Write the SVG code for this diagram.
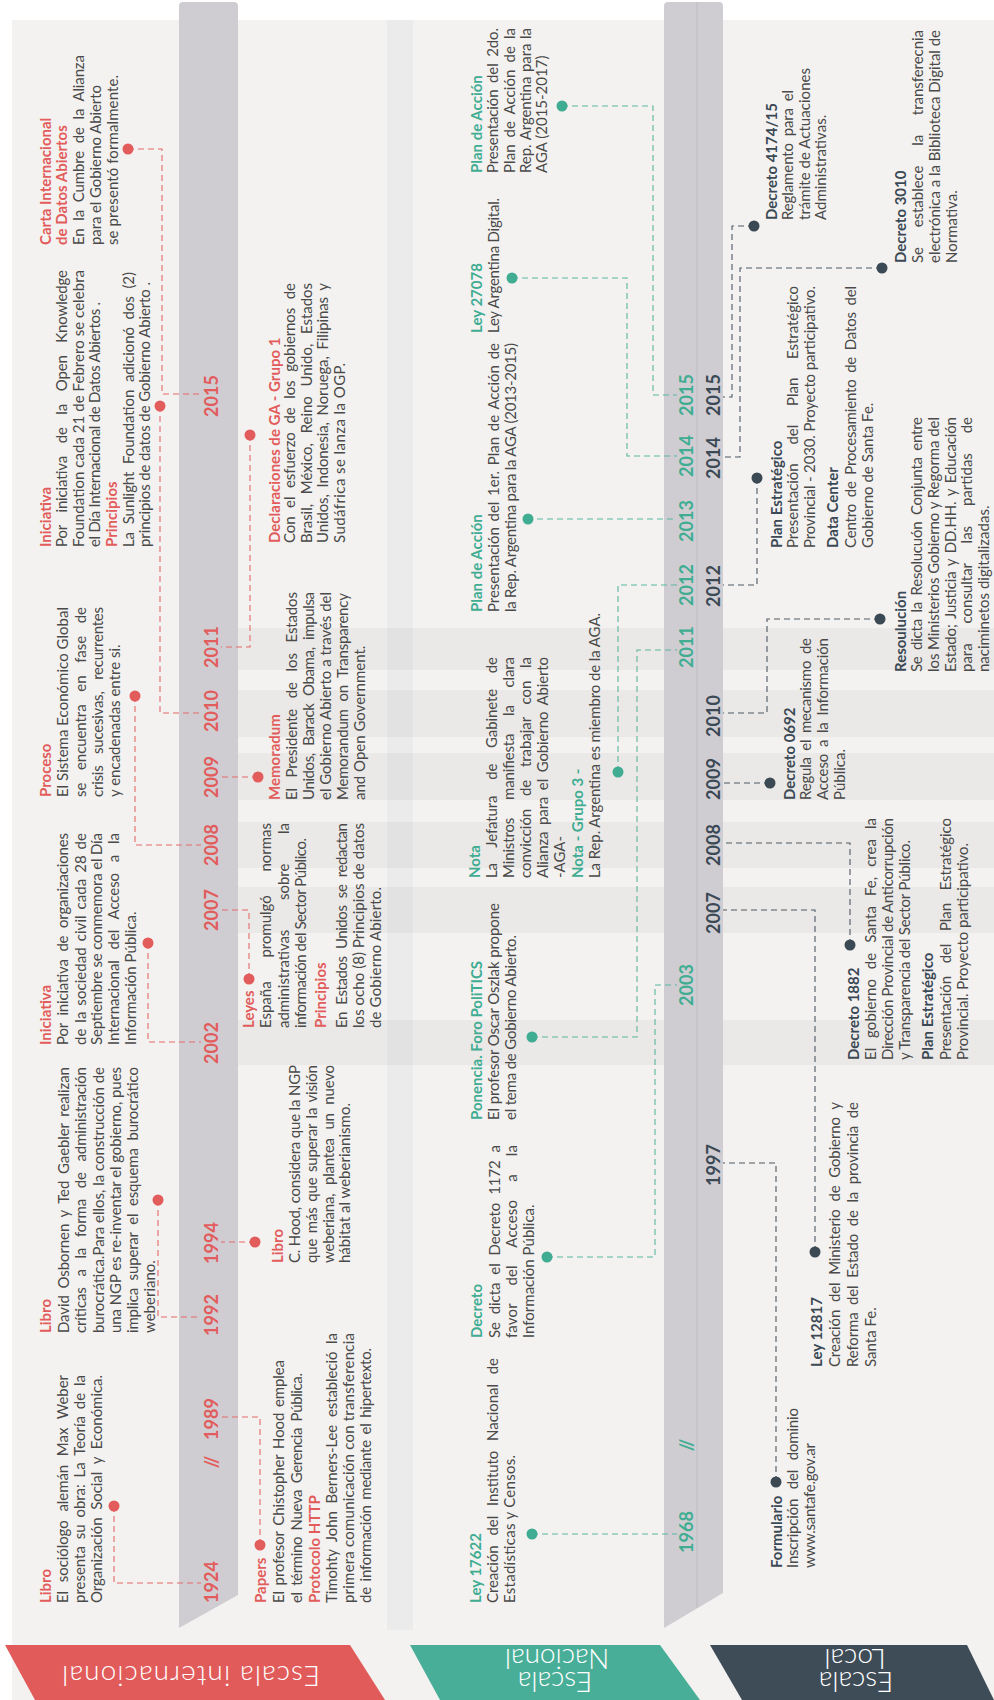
<svg xmlns="http://www.w3.org/2000/svg" width="994" height="1700" viewBox="0 0 994 1700">
<style>
.bg{fill:#f4f2f0}
.band{fill:#000;fill-opacity:0.035}
.strip{fill:#ebebeb}
.bar{fill:#cfcdd2}
.t{font-family:Lato,'Liberation Sans',sans-serif;font-size:15px;fill:#4a4a4a}
.b{font-weight:700}
.r{fill:#e25c5c}
.g{fill:#40ad93}
.d{fill:#3b4955}
.yr{font-family:Lato,'Liberation Sans',sans-serif;font-size:18px;font-weight:700;text-anchor:middle}
.cn{fill:none;stroke-width:1.1;stroke-dasharray:6 4}
.cr{stroke:#e46a6a}
.cg{stroke:#5bb5a1}
.cd{stroke:#4c5864}
.dr{fill:#e25c5c}
.dg{fill:#40ad93}
.dd{fill:#3b4955}
.tab{font-family:Lato,'Liberation Sans',sans-serif;font-size:28px;font-weight:300;fill:#ffffff;text-anchor:middle}
</style>
<rect x="0" y="0" width="994" height="1700" fill="#ffffff"/>
<g transform="translate(0,1700) rotate(-90)">
  <rect class="bg" x="0" y="12" width="1680" height="982"/>
  <rect class="strip" x="70" y="387" width="1610" height="26"/>
  <g id="bands">
    <rect class="band" x="635" y="238" width="45" height="756"/>
    <rect class="band" x="767" y="238" width="46" height="756"/>
    <rect class="band" x="832" y="238" width="46" height="756"/>
    <rect class="band" x="900" y="238" width="47" height="756"/>
    <rect class="band" x="963" y="238" width="47" height="756"/>
    <rect class="band" x="1030" y="238" width="42" height="756"/>
  </g>
  <g id="timeline-internacional">
    <path class="bar" d="M72,179 L1694,179 Q1698,179 1698,183 L1698,234 Q1698,238 1694,238 L105,238 Z"/>
  </g>
  <g id="timeline-nacional-local">
    <path class="bar" d="M72,664 L1694,664 Q1698,664 1698,668 L1698,719 Q1698,723 1694,723 L107,723 Z"/>
    <line x1="92" y1="697" x2="1698" y2="697" stroke="#bfbdc2" stroke-width="1"/>
  </g>

  <g id="connectors">
    <path class="cn cr" d="M194,114 H117 V201"/>
    <path class="cn cr" d="M500,158 H383 V201"/>
    <path class="cn cr" d="M757,148 H658 V201"/>
    <path class="cn cr" d="M1004,135 H855 V201"/>
    <path class="cn cr" d="M1294,160 H987 V201"/>
    <path class="cn cr" d="M1551,128 V162 H1306 V201"/>
    <path class="cn cr" d="M155,260 H283 V221"/>
    <path class="cn cr" d="M458,255 V221"/>
    <path class="cn cr" d="M721,249 H790 V221"/>
    <path class="cn cr" d="M923,258 V221"/>
    <path class="cn cr" d="M1265,250 H1053 V221"/>
    <path class="cn cg" d="M166,532 V677"/>
    <path class="cn cg" d="M443,547 V655 H715 V677"/>
    <path class="cn cg" d="M663,532 V637 H1050 V677"/>
    <path class="cn cg" d="M928,618 H1115 V677"/>
    <path class="cn cg" d="M1181,527 V677"/>
    <path class="cn cg" d="M1422,512 V627 H1244 V677"/>
    <path class="cn cg" d="M1594,562 V653 H1305 V677"/>
    <path class="cn cd" d="M218,776 H537 V723"/>
    <path class="cn cd" d="M448,815 H790 V723"/>
    <path class="cn cd" d="M755,850 H857 V723"/>
    <path class="cn cd" d="M917,770 V723"/>
    <path class="cn cd" d="M1081,880 V767 H987 V723"/>
    <path class="cn cd" d="M1222,757 H1115 V723"/>
    <path class="cn cd" d="M1474,754 V732 H1303 V723"/>
    <path class="cn cd" d="M1432,882 V740 H1243 V723"/>
  </g>

  <g id="years-internacional" class="yr r">
    <text x="118" y="218">1924</text>
    <text x="238" y="218">//</text>
    <text x="281" y="218">1989</text>
    <text x="385" y="218">1992</text>
    <text x="457" y="218">1994</text>
    <text x="657" y="218">2002</text>
    <text x="790" y="218">2007</text>
    <text x="855" y="218">2008</text>
    <text x="923" y="218">2009</text>
    <text x="989" y="218">2010</text>
    <text x="1053" y="218">2011</text>
    <text x="1304" y="218">2015</text>
  </g>
  <g id="years-nacional" class="yr g">
    <text x="168" y="693">1968</text>
    <text x="255" y="693">//</text>
    <text x="715" y="693">2003</text>
    <text x="1053" y="693">2011</text>
    <text x="1115" y="693">2012</text>
    <text x="1179" y="693">2013</text>
    <text x="1244" y="693">2014</text>
    <text x="1305" y="693">2015</text>
  </g>
  <g id="years-local" class="yr d">
    <text x="535" y="720">1997</text>
    <text x="787" y="720">2007</text>
    <text x="855" y="720">2008</text>
    <text x="921" y="720">2009</text>
    <text x="984" y="720">2010</text>
    <text x="1114" y="720">2012</text>
    <text x="1242" y="720">2014</text>
    <text x="1305" y="720">2015</text>
  </g>

  <!-- INTERNACIONAL -->
  <g id="int-libro-1924" class="t">
    <text class="b r" x="97" y="51">Libro</text>
    <text x="97" y="68" textLength="228" lengthAdjust="spacing" style="word-spacing:5px">El sociólogo alemán Max Weber</text>
    <text x="97" y="85" textLength="228" lengthAdjust="spacing" style="word-spacing:3px">presenta su obra: La Teoría de la</text>
    <text x="97" y="102" textLength="228" lengthAdjust="spacing" style="word-spacing:4px">Organización Social y Económica.</text>
    <circle class="dr" cx="194" cy="114" r="5.5"/>
  </g>
  <g id="int-libro-1992" class="t">
    <text class="b r" x="367" y="51">Libro</text>
    <text x="367" y="69" textLength="266" lengthAdjust="spacing" style="word-spacing:3px">David Osbornen y Ted Gaebler realizan</text>
    <text x="367" y="86" textLength="266" lengthAdjust="spacing" style="word-spacing:7px">críticas a la forma de administración</text>
    <text x="367" y="104" textLength="266" lengthAdjust="spacing">burocrática.Para ellos, la construcción de</text>
    <text x="367" y="121" textLength="266" lengthAdjust="spacing">una NGP es re-inventar el gobierno, pues</text>
    <text x="367" y="138" textLength="266" lengthAdjust="spacing" style="word-spacing:4px">implica superar el esquema burocrático</text>
    <text x="367" y="155">weberiano.</text>
    <circle class="dr" cx="500" cy="158" r="5.5"/>
  </g>
  <g id="int-iniciativa-2002" class="t">
    <text class="b r" x="655" y="51">Iniciativa</text>
    <text x="655" y="68" textLength="212" lengthAdjust="spacing" style="word-spacing:4px">Por iniciativa de organizaciones</text>
    <text x="655" y="86" textLength="212" lengthAdjust="spacing" style="word-spacing:2px">de la sociedad civil cada 28 de</text>
    <text x="655" y="102" textLength="212" lengthAdjust="spacing">Septiembre se conmemora el Día</text>
    <text x="655" y="119" textLength="212" lengthAdjust="spacing" style="word-spacing:7px">Internacional del Acceso a la</text>
    <text x="655" y="136">Información Pública.</text>
    <circle class="dr" cx="757" cy="148" r="5.5"/>
  </g>
  <g id="int-proceso-2008" class="t">
    <text class="b r" x="903" y="51">Proceso</text>
    <text x="903" y="68" textLength="190" lengthAdjust="spacing">El Sistema Económico Global</text>
    <text x="903" y="86" textLength="190" lengthAdjust="spacing" style="word-spacing:9px">se encuentra en fase de</text>
    <text x="903" y="103" textLength="190" lengthAdjust="spacing" style="word-spacing:8px">crisis sucesivas, recurrentes</text>
    <text x="903" y="120">y encadenadas entre si.</text>
    <circle class="dr" cx="1004" cy="135" r="5.5"/>
  </g>
  <g id="int-iniciativa-2010" class="t">
    <text class="b r" x="1153" y="51">Iniciativa</text>
    <text x="1153" y="67" textLength="277" lengthAdjust="spacing" style="word-spacing:9px">Por iniciativa de la Open Knowledge</text>
    <text x="1153" y="84" textLength="277" lengthAdjust="spacing">Foundation cada 21 de Febrero se celebra</text>
    <text x="1153" y="100" textLength="245" lengthAdjust="spacing">el Día Internacional de Datos Abiertos .</text>
    <text class="b r" x="1153" y="117">Principios</text>
    <text x="1153" y="134" textLength="275" lengthAdjust="spacing" style="word-spacing:4px">La Sunlight Foundation adicionó dos (2)</text>
    <text x="1153" y="150" textLength="265" lengthAdjust="spacing">principios de datos de Gobierno Abierto .</text>
    <circle class="dr" cx="1294" cy="160" r="5.5"/>
  </g>
  <g id="int-carta-2015" class="t">
    <text class="b r" x="1455" y="51">Carta Internacional</text>
    <text class="b r" x="1455" y="67">de Datos Abiertos</text>
    <text x="1455" y="84" textLength="190" lengthAdjust="spacing" style="word-spacing:4px">En la Cumbre de la Alianza</text>
    <text x="1455" y="101" textLength="160" lengthAdjust="spacing">para el Gobierno Abierto</text>
    <text x="1455" y="118" textLength="170" lengthAdjust="spacing">se presentó formalmente.</text>
    <circle class="dr" cx="1551" cy="128" r="5.5"/>
  </g>
  <g id="int-papers-1989" class="t">
    <text class="b r" x="97" y="266">Papers</text>
    <circle class="dr" cx="155" cy="260" r="5.5"/>
    <text x="97" y="284" textLength="243" lengthAdjust="spacing" style="word-spacing:2px">El profesor Chistopher Hood emplea</text>
    <text x="97" y="302" textLength="230" lengthAdjust="spacing" style="word-spacing:3px">el término Nueva Gerencia Pública.</text>
    <text class="b r" x="97" y="320">Protocolo HTTP</text>
    <text x="97" y="337" textLength="270" lengthAdjust="spacing" style="word-spacing:4px">Timohty John Berners-Lee estableció la</text>
    <text x="97" y="354" textLength="270" lengthAdjust="spacing">primera comunicación con transferencia</text>
    <text x="97" y="371" textLength="255" lengthAdjust="spacing" style="word-spacing:2px">de información mediante el hipertexto.</text>
  </g>
  <g id="int-libro-1994" class="t">
    <circle class="dr" cx="458" cy="255" r="5.5"/>
    <text class="b r" x="437" y="283">Libro</text>
    <text x="437" y="300" textLength="198" lengthAdjust="spacing">C. Hood, considera que la NGP</text>
    <text x="437" y="317" textLength="198" lengthAdjust="spacing" style="word-spacing:2px">que más que superar la visión</text>
    <text x="437" y="334" textLength="198" lengthAdjust="spacing" style="word-spacing:5px">weberiana, plantea un nuevo</text>
    <text x="437" y="350" textLength="160" lengthAdjust="spacing">hábitat al weberianismo.</text>
  </g>
  <g id="int-leyes-2007" class="t">
    <text class="b r" x="672" y="254">Leyes</text>
    <circle class="dr" cx="721" cy="249" r="5.5"/>
    <text x="672" y="271" textLength="205" lengthAdjust="spacing" style="word-spacing:20px">España promulgó normas</text>
    <text x="672" y="289" textLength="205" lengthAdjust="spacing" style="word-spacing:26px">administrativas sobre la</text>
    <text x="672" y="306" textLength="190" lengthAdjust="spacing">información del Sector Público.</text>
    <text class="b r" x="672" y="326">Principios</text>
    <text x="672" y="347" textLength="205" lengthAdjust="spacing" style="word-spacing:4px">En Estados Unidos se redactan</text>
    <text x="672" y="364" textLength="205" lengthAdjust="spacing">los ocho (8) Principios de datos</text>
    <text x="672" y="381" textLength="141" lengthAdjust="spacing">de Gobierno Abierto.</text>
  </g>
  <g id="int-memoradum-2009" class="t">
    <circle class="dr" cx="923" cy="258" r="5.5"/>
    <text class="b r" x="900" y="280">Memoradum</text>
    <text x="900" y="297" textLength="208" lengthAdjust="spacing" style="word-spacing:7px">El Presidente de los Estados</text>
    <text x="900" y="314" textLength="208" lengthAdjust="spacing" style="word-spacing:4px">Unidos, Barack Obama, impulsa</text>
    <text x="900" y="331" textLength="208" lengthAdjust="spacing">el Gobierno Abierto a través del</text>
    <text x="900" y="348" textLength="207" lengthAdjust="spacing" style="word-spacing:4px">Memorandum on Transparency</text>
    <text x="900" y="365">and Open Government.</text>
  </g>
  <g id="int-declaraciones-2011" class="t">
    <circle class="dr" cx="1265" cy="250" r="5.5"/>
    <text class="b r" x="1157" y="280">Declaraciones de GA - Grupo 1</text>
    <text x="1157" y="295" textLength="260" lengthAdjust="spacing" style="word-spacing:5px">Con el esfuerzo de los gobiernos de</text>
    <text x="1157" y="312" textLength="260" lengthAdjust="spacing" style="word-spacing:6px">Brasil, México, Reino Unido, Estados</text>
    <text x="1157" y="328" textLength="260" lengthAdjust="spacing" style="word-spacing:3px">Unidos, Indonesia, Noruega, Filipinas y</text>
    <text x="1157" y="345" textLength="180" lengthAdjust="spacing">Sudáfrica se lanza la OGP.</text>
  </g>

  <!-- NACIONAL -->
  <g id="nac-ley17622-1968" class="t">
    <text class="b g" x="97" y="481">Ley 17622</text>
    <text x="97" y="498" textLength="245" lengthAdjust="spacing" style="word-spacing:6px">Creación del Instituto Nacional de</text>
    <text x="97" y="515" textLength="148" lengthAdjust="spacing">Estadísticas y Censos.</text>
    <circle class="dg" cx="166" cy="532" r="5.5"/>
  </g>
  <g id="nac-decreto-2003" class="t">
    <text class="b g" x="362" y="482">Decreto</text>
    <text x="362" y="500" textLength="193" lengthAdjust="spacing" style="word-spacing:4px">Se dicta el Decreto 1172 a</text>
    <text x="362" y="517" textLength="193" lengthAdjust="spacing" style="word-spacing:14px">favor del Acceso a la</text>
    <text x="362" y="534">Información Pública.</text>
    <circle class="dg" cx="443" cy="547" r="5.5"/>
  </g>
  <g id="nac-ponencia-2011" class="t">
    <text class="b g" x="580" y="482">Ponencia. Foro PoliTICS</text>
    <text x="580" y="499" textLength="217" lengthAdjust="spacing">El profesor Oscar Oszlak propone</text>
    <text x="580" y="516" textLength="185" lengthAdjust="spacing">el tema de Gobierno Abierto.</text>
    <circle class="dg" cx="663" cy="532" r="5.5"/>
  </g>
  <g id="nac-nota-2012" class="t">
    <text class="b g" x="822" y="480">Nota</text>
    <text x="822" y="497" textLength="221" lengthAdjust="spacing" style="word-spacing:12px">La Jefatura de Gabinete de</text>
    <text x="822" y="514" textLength="221" lengthAdjust="spacing" style="word-spacing:14px">Ministros manifiesta la clara</text>
    <text x="822" y="531" textLength="221" lengthAdjust="spacing" style="word-spacing:9px">convicción de trabajar con la</text>
    <text x="822" y="548" textLength="221" lengthAdjust="spacing" style="word-spacing:3px">Alianza para el Gobierno Abierto</text>
    <text x="822" y="565">-AGA-</text>
    <text class="b g" x="822" y="583">Nota - Grupo 3 -</text>
    <text x="822" y="600" textLength="265" lengthAdjust="spacing">La Rep. Argentina es miembro de la AGA.</text>
    <circle class="dg" cx="928" cy="618" r="5.5"/>
  </g>
  <g id="nac-plan-2013" class="t">
    <text class="b g" x="1088" y="482">Plan de Acción</text>
    <text x="1088" y="499" textLength="269" lengthAdjust="spacing" style="word-spacing:2px">Presentación del 1er. Plan de Acción de</text>
    <text x="1088" y="516" textLength="269" lengthAdjust="spacing">la Rep. Argentina para la AGA (2013-2015)</text>
    <circle class="dg" cx="1181" cy="528" r="5.5"/>
  </g>
  <g id="nac-ley27078-2014" class="t">
    <text class="b g" x="1367" y="482">Ley 27078</text>
    <text x="1367" y="499" textLength="135" lengthAdjust="spacing">Ley Argentina Digital.</text>
    <circle class="dg" cx="1422" cy="512" r="5.5"/>
  </g>
  <g id="nac-plan-2015" class="t">
    <text class="b g" x="1527" y="482">Plan de Acción</text>
    <text x="1527" y="498" textLength="145" lengthAdjust="spacing" style="word-spacing:3px">Presentación del 2do.</text>
    <text x="1527" y="515" textLength="145" lengthAdjust="spacing" style="word-spacing:3px">Plan de Acción de la</text>
    <text x="1527" y="531" textLength="145" lengthAdjust="spacing" style="word-spacing:1px">Rep. Argentina para la</text>
    <text x="1527" y="547">AGA (2015-2017)</text>
    <circle class="dg" cx="1594" cy="562" r="5.5"/>
  </g>

  <!-- LOCAL -->
  <g id="loc-formulario-1997" class="t">
    <text class="b d" x="132" y="782">Formulario</text>
    <circle class="dd" cx="218" cy="776" r="5.5"/>
    <text x="132" y="798" textLength="160" lengthAdjust="spacing" style="word-spacing:6px">Inscripción del dominio</text>
    <text x="132" y="815" textLength="125" lengthAdjust="spacing">www.santafe.gov.ar</text>
  </g>
  <g id="loc-ley12817-2007" class="t">
    <text class="b d" x="333" y="822">Ley 12817</text>
    <circle class="dd" cx="448" cy="815" r="5.5"/>
    <text x="333" y="840" textLength="265" lengthAdjust="spacing" style="word-spacing:4px">Creación del Ministerio de Gobierno y</text>
    <text x="333" y="858" textLength="265" lengthAdjust="spacing" style="word-spacing:4px">Reforma del Estado de la provincia de</text>
    <text x="333" y="876">Santa Fe.</text>
  </g>
  <g id="loc-decreto1882-2008" class="t">
    <text class="b d" x="640" y="859">Decreto 1882</text>
    <circle class="dd" cx="755" cy="850" r="5.5"/>
    <text x="640" y="876" textLength="242" lengthAdjust="spacing" style="word-spacing:6px">El gobierno de Santa Fe, crea la</text>
    <text x="640" y="893" textLength="242" lengthAdjust="spacing">Dirección Provincial de Anticorrupción</text>
    <text x="640" y="910" textLength="220" lengthAdjust="spacing">y Transparencia del Sector Público.</text>
    <text class="b d" x="640" y="933">Plan Estratégico</text>
    <text x="640" y="951" textLength="242" lengthAdjust="spacing" style="word-spacing:9px">Presentación del Plan Estratégico</text>
    <text x="640" y="968" textLength="217" lengthAdjust="spacing">Provincial. Proyecto participativo.</text>
  </g>
  <g id="loc-decreto0692-2009" class="t">
    <circle class="dd" cx="917" cy="770" r="5.5"/>
    <text class="b d" x="900" y="795">Decreto 0692</text>
    <text x="900" y="811" textLength="162" lengthAdjust="spacing" style="word-spacing:3px">Regula el mecanismo de</text>
    <text x="900" y="828" textLength="162" lengthAdjust="spacing" style="word-spacing:3px">Acceso a la Información</text>
    <text x="900" y="845">Pública.</text>
  </g>
  <g id="loc-resolucion-2010" class="t">
    <circle class="dd" cx="1081" cy="880" r="5.5"/>
    <text class="b d" x="1028" y="906">Resoulución</text>
    <text x="1028" y="922" textLength="255" lengthAdjust="spacing" style="word-spacing:3px">Se dicta la Resolucuón Conjunta entre</text>
    <text x="1028" y="939" textLength="255" lengthAdjust="spacing">los Ministerios Gobierno y Regorma del</text>
    <text x="1028" y="956" textLength="255" lengthAdjust="spacing" style="word-spacing:2px">Estado; Justicia y DD.HH. y Educación</text>
    <text x="1028" y="972" textLength="255" lengthAdjust="spacing" style="word-spacing:16px">para consultar las partidas de</text>
    <text x="1028" y="989">naciminetos digitalizadas.</text>
  </g>
  <g id="loc-plan-2012" class="t">
    <circle class="dd" cx="1222" cy="757" r="5.5"/>
    <text class="b d" x="1152" y="782">Plan Estratégico</text>
    <text x="1152" y="798" textLength="262" lengthAdjust="spacing" style="word-spacing:15px">Presentación del Plan Estratégico</text>
    <text x="1152" y="815" textLength="262" lengthAdjust="spacing">Provincial - 2030. Proyecto participativo.</text>
    <text class="b d" x="1152" y="838">Data Center</text>
    <text x="1152" y="856" textLength="262" lengthAdjust="spacing" style="word-spacing:3px">Centro de Procesamiento de Datos del</text>
    <text x="1152" y="873">Gobierno de Santa Fe.</text>
  </g>
  <g id="loc-decreto4174-2015" class="t">
    <circle class="dd" cx="1474" cy="754" r="5.5"/>
    <text class="b d" x="1480" y="777">Decreto 4174/15</text>
    <text x="1480" y="793" textLength="130" lengthAdjust="spacing" style="word-spacing:3px">Reglamento para el</text>
    <text x="1480" y="810" textLength="152" lengthAdjust="spacing">trámite de Actuaciones</text>
    <text x="1480" y="826">Administrativas.</text>
  </g>
  <g id="loc-decreto3010-2014" class="t">
    <circle class="dd" cx="1432" cy="882" r="5.5"/>
    <text class="b d" x="1437" y="906">Decreto 3010</text>
    <text x="1437" y="923" textLength="233" lengthAdjust="spacing" style="word-spacing:16px">Se establece la transferecnia</text>
    <text x="1437" y="940" textLength="233" lengthAdjust="spacing">electrónica a la Biblioteca Digital de</text>
    <text x="1437" y="957">Normativa.</text>
  </g>
</g>

<g id="tab-internacional">
  <polygon points="5,1645 350,1645 385,1700 35,1700" fill="#e15b5b"/>
  <text class="tab" x="191" y="1666" transform="rotate(180 191 1666)" textLength="258" lengthAdjust="spacing">Escala internacional</text>
</g>
<g id="tab-nacional">
  <polygon points="410,1645 660,1645 700,1700 440,1700" fill="#49ae98"/>
  <text class="tab" x="555" y="1672" transform="rotate(180 555 1672)">Escala</text>
  <text class="tab" x="557" y="1649" transform="rotate(180 557 1649)">Nacional</text>
</g>
<g id="tab-local">
  <polygon points="710,1645 967,1645 994,1700 742,1700" fill="#3e4c58"/>
  <text class="tab" x="856" y="1672" transform="rotate(180 856 1672)">Escala</text>
  <text class="tab" x="855" y="1649" transform="rotate(180 855 1649)">Local</text>
</g>
</svg>
